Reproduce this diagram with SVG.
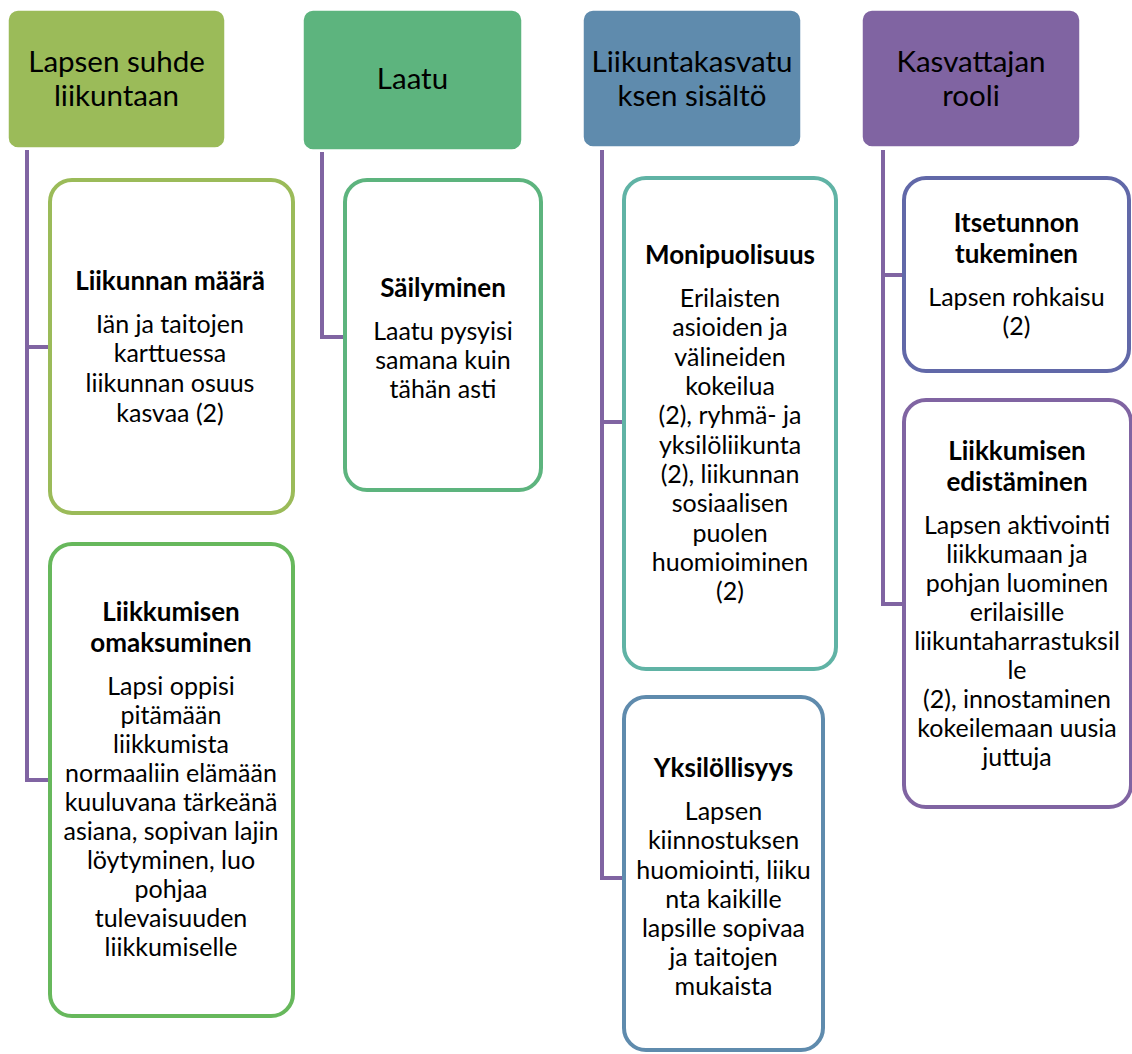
<svg xmlns="http://www.w3.org/2000/svg" width="1132" height="1054" viewBox="0 0 1132 1054">
  <style>
    .hdr { stroke: #ffffff; stroke-width: 1.5; }
    .box { fill: #ffffff; stroke-width: 4; }
    .conn { fill: none; stroke: #8064a2; stroke-width: 4; }
    text { font-family: Lato, "Open Sans", sans-serif; fill: #000000; text-anchor: middle; }
    .h { font-size: 29.5px; }
    .t { font-size: 26px; font-weight: bold; }
    .b { font-size: 25px; }
  </style>
  <rect width="1132" height="1054" fill="#ffffff"/>

  <!-- connectors -->
  <g id="connectors">
    <path class="conn" d="M27,150 V780 H48"/>
    <path class="conn" d="M27,347 H48"/>
    <path class="conn" d="M322,152 V337 H343"/>
    <path class="conn" d="M602,150 V878 H622"/>
    <path class="conn" d="M602,422 H622"/>
    <path class="conn" d="M883,150 V604 H902"/>
    <path class="conn" d="M883,275 H902"/>
  </g>

  <!-- column 1 -->
  <g id="hdr-lapsen-suhde">
    <rect class="hdr" x="8" y="10" width="217" height="138" rx="10" fill="#9bbb59"/>
    <text class="h" x="116.5" y="72">Lapsen suhde</text>
    <text class="h" x="116.5" y="106">liikuntaan</text>
  </g>
  <g id="node-liikunnan-maara">
    <rect class="box" x="50" y="180" width="243" height="333" rx="22" stroke="#9bbb59"/>
    <text class="t" x="170" y="290">Liikunnan määrä</text>
    <text class="b" x="170" y="333">Iän ja taitojen</text>
    <text class="b" x="170" y="362">karttuessa</text>
    <text class="b" x="170" y="392">liikunnan osuus</text>
    <text class="b" x="170" y="422">kasvaa (2)</text>
  </g>
  <g id="node-liikkumisen-omaksuminen">
    <rect class="box" x="50" y="544" width="243" height="472" rx="22" stroke="#67b85c"/>
    <text class="t" x="171" y="621">Liikkumisen</text>
    <text class="t" x="171" y="652">omaksuminen</text>
    <text class="b" x="171" y="695">Lapsi oppisi</text>
    <text class="b" x="171" y="724">pitämään</text>
    <text class="b" x="171" y="753">liikkumista</text>
    <text class="b" x="171" y="782">normaaliin elämään</text>
    <text class="b" x="171" y="811">kuuluvana tärkeänä</text>
    <text class="b" x="171" y="840">asiana, sopivan lajin</text>
    <text class="b" x="171" y="869">löytyminen, luo</text>
    <text class="b" x="171" y="898">pohjaa</text>
    <text class="b" x="171" y="927">tulevaisuuden</text>
    <text class="b" x="171" y="956">liikkumiselle</text>
  </g>

  <!-- column 2 -->
  <g id="hdr-laatu">
    <rect class="hdr" x="303" y="10" width="219" height="140" rx="10" fill="#5db47e"/>
    <text class="h" x="412.5" y="89">Laatu</text>
  </g>
  <g id="node-sailyminen">
    <rect class="box" x="345" y="180" width="196" height="310" rx="22" stroke="#5db47e"/>
    <text class="t" x="443" y="297">Säilyminen</text>
    <text class="b" x="443" y="340">Laatu pysyisi</text>
    <text class="b" x="443" y="369">samana kuin</text>
    <text class="b" x="443" y="398">tähän asti</text>
  </g>

  <!-- column 3 -->
  <g id="hdr-sisalto">
    <rect class="hdr" x="583" y="10" width="218" height="137" rx="10" fill="#5f8bad"/>
    <text class="h" x="692" y="72">Liikuntakasvatu</text>
    <text class="h" x="692" y="106">ksen sisältö</text>
  </g>
  <g id="node-monipuolisuus">
    <rect class="box" x="624" y="178" width="212" height="491" rx="22" stroke="#60b3a5"/>
    <text class="t" x="730" y="264">Monipuolisuus</text>
    <text class="b" x="730" y="307">Erilaisten</text>
    <text class="b" x="730" y="336">asioiden ja</text>
    <text class="b" x="730" y="366">välineiden</text>
    <text class="b" x="730" y="395">kokeilua</text>
    <text class="b" x="730" y="424">(2), ryhmä- ja</text>
    <text class="b" x="730" y="454">yksilöliikunta</text>
    <text class="b" x="730" y="483">(2), liikunnan</text>
    <text class="b" x="730" y="512">sosiaalisen</text>
    <text class="b" x="730" y="542">puolen</text>
    <text class="b" x="730" y="571">huomioiminen</text>
    <text class="b" x="730" y="600">(2)</text>
  </g>
  <g id="node-yksilollisyys">
    <rect class="box" x="624" y="697" width="199" height="353" rx="22" stroke="#5f8bad"/>
    <text class="t" x="723.5" y="777">Yksilöllisyys</text>
    <text class="b" x="723.5" y="820">Lapsen</text>
    <text class="b" x="723.5" y="849">kiinnostuksen</text>
    <text class="b" x="723.5" y="879">huomiointi, liiku</text>
    <text class="b" x="723.5" y="908">nta kaikille</text>
    <text class="b" x="723.5" y="937">lapsille sopivaa</text>
    <text class="b" x="723.5" y="966">ja taitojen</text>
    <text class="b" x="723.5" y="995">mukaista</text>
  </g>

  <!-- column 4 -->
  <g id="hdr-kasvattajan-rooli">
    <rect class="hdr" x="862" y="10" width="218" height="137" rx="10" fill="#8064a2"/>
    <text class="h" x="971" y="72">Kasvattajan</text>
    <text class="h" x="971" y="106">rooli</text>
  </g>
  <g id="node-itsetunnon-tukeminen">
    <rect class="box" x="904" y="178" width="225" height="193" rx="22" stroke="#6168a8"/>
    <text class="t" x="1016.5" y="232">Itsetunnon</text>
    <text class="t" x="1016.5" y="263">tukeminen</text>
    <text class="b" x="1016.5" y="306">Lapsen rohkaisu</text>
    <text class="b" x="1016.5" y="335">(2)</text>
  </g>
  <g id="node-liikkumisen-edistaminen">
    <rect class="box" x="904" y="400" width="227" height="407" rx="22" stroke="#8064a2"/>
    <text class="t" x="1017" y="460">Liikkumisen</text>
    <text class="t" x="1017" y="491">edistäminen</text>
    <text class="b" x="1017" y="534">Lapsen aktivointi</text>
    <text class="b" x="1017" y="563">liikkumaan ja</text>
    <text class="b" x="1017" y="592">pohjan luominen</text>
    <text class="b" x="1017" y="621">erilaisille</text>
    <text class="b" x="1017" y="650">liikuntaharrastuksil</text>
    <text class="b" x="1017" y="679">le</text>
    <text class="b" x="1017" y="708">(2), innostaminen</text>
    <text class="b" x="1017" y="737">kokeilemaan uusia</text>
    <text class="b" x="1017" y="766">juttuja</text>
  </g>
</svg>
